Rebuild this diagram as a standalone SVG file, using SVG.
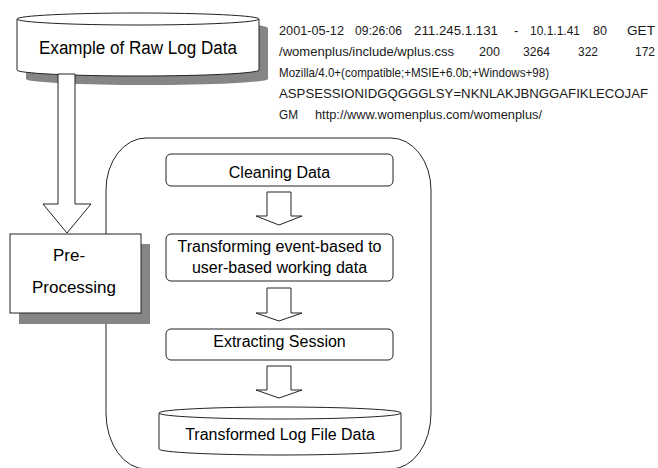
<svg xmlns="http://www.w3.org/2000/svg" width="658" height="468" viewBox="0 0 658 468">
  <style>
    .shape { fill: #ffffff; stroke: #222222; stroke-width: 1; }
    .shadow { fill: #858585; stroke: none; }
    .label { font-family: "Liberation Sans", Arial, sans-serif; font-size: 16px; fill: #000000; text-anchor: middle; }
    .big { font-size: 18px; }
    .log { font-family: "Liberation Sans", Arial, sans-serif; font-size: 13px; fill: #1a1a1a; }
  </style>
  <rect x="0" y="0" width="658" height="468" fill="#ffffff"/>

  <g id="process-frame">
    <path class="shape" d="M146,138 H391 A40,52 0 0 1 431,190 V413 A40,56 0 0 1 391,469 H146 A40,56 0 0 1 106,413 V190 A40,52 0 0 1 146,138 Z"/>
  </g>

  <g id="raw-log-data">
    <path class="shadow" transform="translate(9,9)" d="M17,19 V70 A121,6 0 0 0 259,70 V19 A121,7 0 0 0 17,19 Z"/>
    <path class="shape" d="M17,19 V70 A121,6 0 0 0 259,70 V19"/>
    <ellipse class="shape" cx="138" cy="19" rx="121" ry="6"/>
    <text class="label big" x="138" y="54" textLength="198" lengthAdjust="spacingAndGlyphs">Example of Raw Log Data</text>
  </g>

  <g id="log-sample" class="log">
    <text x="279" y="35" textLength="65" lengthAdjust="spacingAndGlyphs">2001-05-12</text>
    <text x="355" y="35" textLength="47" lengthAdjust="spacingAndGlyphs">09:26:06</text>
    <text x="414" y="35" textLength="84" lengthAdjust="spacingAndGlyphs">211.245.1.131</text>
    <text x="514" y="35">-</text>
    <text x="530" y="35" textLength="50" lengthAdjust="spacingAndGlyphs">10.1.1.41</text>
    <text x="593" y="35" textLength="14" lengthAdjust="spacingAndGlyphs">80</text>
    <text x="627" y="35" textLength="28" lengthAdjust="spacingAndGlyphs">GET</text>

    <text x="279" y="56" textLength="175" lengthAdjust="spacingAndGlyphs">/womenplus/include/wplus.css</text>
    <text x="479" y="56" textLength="21" lengthAdjust="spacingAndGlyphs">200</text>
    <text x="523" y="56" textLength="27" lengthAdjust="spacingAndGlyphs">3264</text>
    <text x="578" y="56" textLength="20" lengthAdjust="spacingAndGlyphs">322</text>
    <text x="635" y="56" textLength="20" lengthAdjust="spacingAndGlyphs">172</text>

    <text x="279" y="77" textLength="270" lengthAdjust="spacingAndGlyphs">Mozilla/4.0+(compatible;+MSIE+6.0b;+Windows+98)</text>

    <text x="279" y="98" textLength="369" lengthAdjust="spacingAndGlyphs">ASPSESSIONIDGQGGGLSY=NKNLAKJBNGGAFIKLECOJAF</text>

    <text x="279" y="119" textLength="19" lengthAdjust="spacingAndGlyphs">GM</text>
    <text x="315" y="119" textLength="227" lengthAdjust="spacingAndGlyphs">http://www.womenplus.com/womenplus/</text>
  </g>

  <g id="connectors">
    <polygon class="shape" points="58,74 75,74 75,204 91,204 67,233 43,204 58,204"/>
    <polygon class="shape" points="267,192 291,192 291,216 302,216 279,225 256,216 267,216"/>
    <polygon class="shape" points="267,288 291,288 291,313 302,313 279,321 256,313 267,313"/>
    <polygon class="shape" points="267,366 291,366 291,390 302,390 279,398 256,390 267,390"/>
  </g>

  <g id="pre-processing">
    <rect class="shadow" x="19" y="244" width="131" height="80"/>
    <rect class="shape" x="10" y="234" width="131" height="79"/>
    <text class="label" style="font-size:17px" x="69" y="261">Pre-</text>
    <text class="label" style="font-size:17px" x="74" y="293">Processing</text>
  </g>

  <g id="cleaning-data">
    <rect class="shape" x="166" y="154" width="227" height="32" rx="5" ry="5"/>
    <text class="label" x="279.5" y="178">Cleaning Data</text>
  </g>

  <g id="transforming">
    <rect class="shape" x="166" y="234" width="227" height="47" rx="5" ry="5"/>
    <text class="label" x="279.5" y="252">Transforming event-based to</text>
    <text class="label" x="279.5" y="273">user-based working data</text>
  </g>

  <g id="extracting-session">
    <rect class="shape" x="166" y="329" width="227" height="31" rx="5" ry="5"/>
    <text class="label" x="279.5" y="347">Extracting Session</text>
  </g>

  <g id="transformed-log">
    <path class="shape" d="M159,413 V449 A121,6 0 0 0 401,449 V413"/>
    <ellipse class="shape" cx="280" cy="413" rx="121" ry="6"/>
    <text class="label" x="280" y="440">Transformed Log File Data</text>
  </g>
</svg>
